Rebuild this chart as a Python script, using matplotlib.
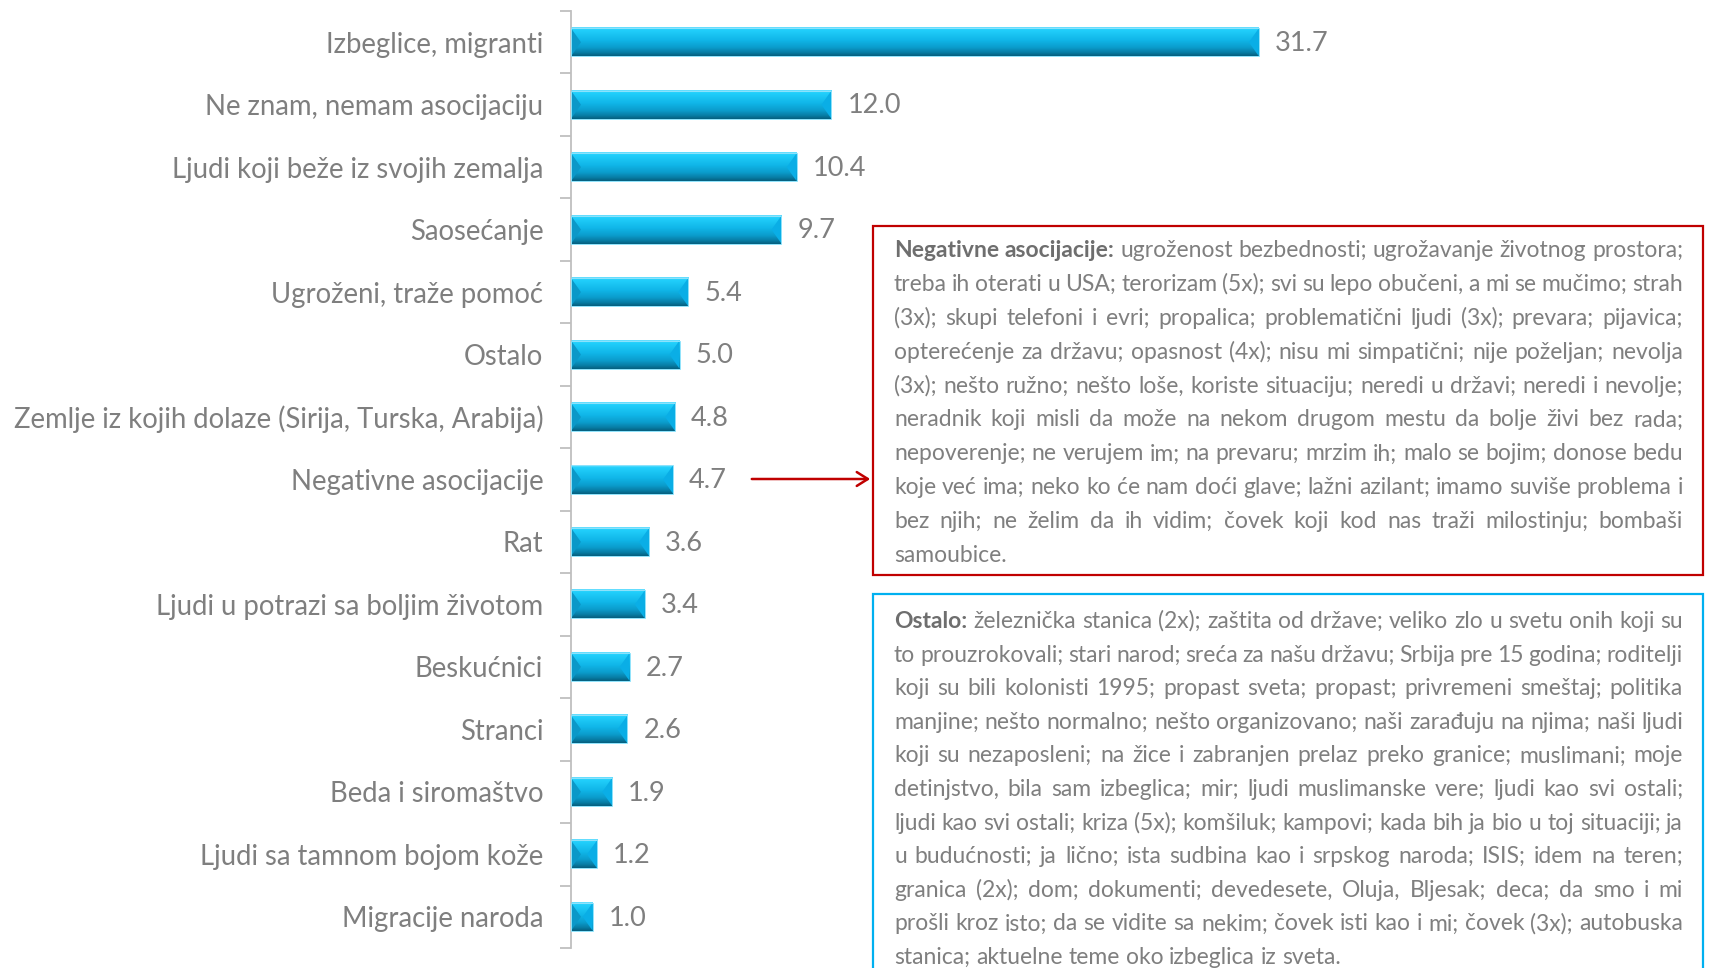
import numpy as np
import matplotlib
matplotlib.use("Agg")
import matplotlib.pyplot as plt
from matplotlib.patches import Rectangle, Polygon, FancyArrowPatch
from matplotlib.colors import LinearSegmentedColormap

categories = ["Izbeglice, migranti", "Ne znam, nemam asocijaciju", "Ljudi koji beže iz svojih zemalja",
              "Saosećanje", "Ugroženi, traže pomoć", "Ostalo",
              "Zemlje iz kojih dolaze (Sirija, Turska, Arabija)", "Negativne asocijacije", "Rat",
              "Ljudi u potrazi sa boljim životom", "Beskućnici", "Stranci", "Beda i siromaštvo",
              "Ljudi sa tamnom bojom kože", "Migracije naroda"]
values = [31.7, 12.0, 10.4, 9.7, 5.4, 5.0, 4.8, 4.7, 3.6, 3.4, 2.7, 2.6, 1.9, 1.2, 1.0]

neg_lines = [
    "Negativne asocijacije: ugroženost bezbednosti; ugrožavanje životnog prostora;",
    "treba ih oterati u USA; terorizam (5x); svi su lepo obučeni, a mi se mučimo; strah",
    "(3x); skupi telefoni i evri; propalica; problematični ljudi (3x); prevara; pijavica;",
    "opterećenje za državu; opasnost (4x); nisu mi simpatični; nije poželjan; nevolja",
    "(3x); nešto ružno; nešto loše, koriste situaciju; neredi u državi; neredi i nevolje;",
    "neradnik koji misli da može na nekom drugom mestu da bolje živi bez rada;",
    "nepoverenje; ne verujem im; na prevaru; mrzim ih; malo se bojim; donose bedu",
    "koje već ima; neko ko će nam doći glave; lažni azilant; imamo suviše problema i",
    "bez njih; ne želim da ih vidim; čovek koji kod nas traži milostinju; bombaši",
    "samoubice.",
]
ost_lines = [
    "Ostalo: železnička stanica (2x); zaštita od države; veliko zlo u svetu onih koji su",
    "to prouzrokovali; stari narod; sreća za našu državu; Srbija pre 15 godina; roditelji",
    "koji su bili kolonisti 1995; propast sveta; propast; privremeni smeštaj; politika",
    "manjine; nešto normalno; nešto organizovano; naši zarađuju na njima; naši ljudi",
    "koji su nezaposleni; na žice i zabranjen prelaz preko granice; muslimani; moje",
    "detinjstvo, bila sam izbeglica; mir; ljudi muslimanske vere; ljudi kao svi ostali;",
    "ljudi kao svi ostali; kriza (5x); komšiluk; kampovi; kada bih ja bio u toj situaciji; ja",
    "u budućnosti; ja lično; ista sudbina kao i srpskog naroda; ISIS; idem na teren;",
    "granica (2x); dom; dokumenti; devedesete, Oluja, Bljesak; deca; da smo i mi",
    "prošli kroz isto; da se vidite sa nekim; čovek isti kao i mi; čovek (3x); autobuska",
    "stanica; aktuelne teme oko izbeglica iz sveta.",
]

W, H = 1712, 968
plt.rcParams['font.family'] = ['Lato', 'DejaVu Sans']
fig = plt.figure(figsize=(W / 100, H / 100), dpi=100)
ax = fig.add_axes([571 / W, 1 - 948 / H, (1703 - 571) / W, 937 / H])

gray = '#7f7f7f'
px_per_unit = 21.7
xmax = (1703 - 571) / px_per_unit
h = 0.45
bev = 10 / px_per_unit

cmap = LinearSegmentedColormap.from_list('bar', [
    (0.0, '#6fe0ff'), (0.08, '#22d0fc'), (0.45, '#10b6e8'),
    (0.7, '#0b9dcd'), (0.88, '#087ea6'), (1.0, '#05607f')])
grad = np.linspace(0, 1, 64).reshape(-1, 1)

for i, v in enumerate(values):
    top, bot = i - h / 2, i + h / 2
    ax.imshow(grad, extent=(0, v, bot, top), origin='upper', aspect='auto', cmap=cmap, zorder=2)
    b = min(bev, v / 2)
    ax.add_patch(Polygon([(v, top), (v - b, i), (v, bot)], closed=True,
                         facecolor='#0aaee6', edgecolor='none', zorder=3))
    ax.add_patch(Polygon([(0, top), (b, i), (0, bot)], closed=True,
                         facecolor='#0b98c8', edgecolor='none', zorder=3))
    ax.add_patch(Rectangle((0, top), v, h, fill=False, edgecolor='#8fe3fb', lw=0.7, zorder=4))
    ax.text(v + 16 / px_per_unit, i + 0.02, f'{v:.1f}', va='center', ha='left', fontsize=19.5, color=gray)

ax.set_xlim(0, xmax)
ax.set_ylim(len(values) - 0.5, -0.5)
for s in ['top', 'right', 'bottom']:
    ax.spines[s].set_visible(False)
ax.spines['left'].set_color('#bfbfbf')
ax.spines['left'].set_linewidth(1.3)
ax.set_xticks([])
ax.set_yticks(range(len(values)))
ax.set_yticklabels(categories, fontsize=19.8, color=gray)
ax.set_yticks(np.arange(-0.5, len(values), 1), minor=True)
ax.tick_params(axis='y', which='major', length=0, pad=20)
ax.tick_params(axis='y', which='minor', length=8, color='#bfbfbf', width=1.3, direction='out')
ax.set_facecolor('none')

renderer = fig.canvas.get_renderer()


def word_width(word, size, weight):
    t = fig.text(0, 0, word, fontsize=size, fontweight=weight)
    w = t.get_window_extent(renderer).width
    t.remove()
    return w


def layout(lines, n_bold, size):
    k = 0
    out = []
    for line in lines:
        words = line.split()
        styles = []
        for w in words:
            styles.append('bold' if k < n_bold else 'normal')
            k += 1
        widths = [word_width(w, size, s) for w, s in zip(words, styles)]
        out.append((words, styles, widths))
    return out


def fits(lines, n_bold, size, avail):
    space = word_width('a a', size, 'normal') - word_width('aa', size, 'normal')
    for words, styles, widths in layout(lines, n_bold, size)[:-1]:
        if (avail - sum(widths)) / (len(words) - 1) < 0.75 * space:
            return False
    return True


def draw_block(lines, n_bold, x0, x1, y0, step, size):
    space = word_width('a a', size, 'normal') - word_width('aa', size, 'normal')
    rows = layout(lines, n_bold, size)
    for i, (words, styles, widths) in enumerate(rows):
        if i < len(rows) - 1 and len(words) > 1:
            gap = (x1 - x0 - sum(widths)) / (len(words) - 1)
        else:
            gap = space
        x = x0
        base = y0 + i * step
        for w, s, wd in zip(words, styles, widths):
            fig.text(x / W, 1 - base / H, w, fontsize=size, fontweight=s,
                     color='#6e6e6e' if s == 'bold' else gray, va='baseline', ha='left')
            x += wd + gap


# text boxes
fig.patches.append(Rectangle((873 / W, 1 - 575 / H), (1703 - 873) / W, (575 - 226) / H,
                             transform=fig.transFigure, fill=False, edgecolor='#c00000', lw=1.6))
fig.patches.append(Rectangle((873 / W, 1 - 1000 / H), (1703 - 873) / W, (1000 - 594) / H,
                             transform=fig.transFigure, fill=False, edgecolor='#00b0f0', lw=1.6))

box_size = 17.0
while box_size > 12 and not (fits(neg_lines, 2, box_size, 789) and fits(ost_lines, 1, box_size, 789)):
    box_size -= 0.25
draw_block(neg_lines, 2, 894, 1683, 257, 33.9, box_size)
draw_block(ost_lines, 1, 894, 1683, 628, 33.6, box_size)

# arrow from "Negativne asocijacije" bar to the box
ya = 1 - (41.5 + 7 * 62.5) / H
fig.add_artist(FancyArrowPatch((749 / W, ya), (873 / W, ya), transform=fig.transFigure,
                               arrowstyle='->,head_length=8,head_width=5',
                               color='#c00000', lw=1.8))

fig.savefig('out.png', dpi=100)
